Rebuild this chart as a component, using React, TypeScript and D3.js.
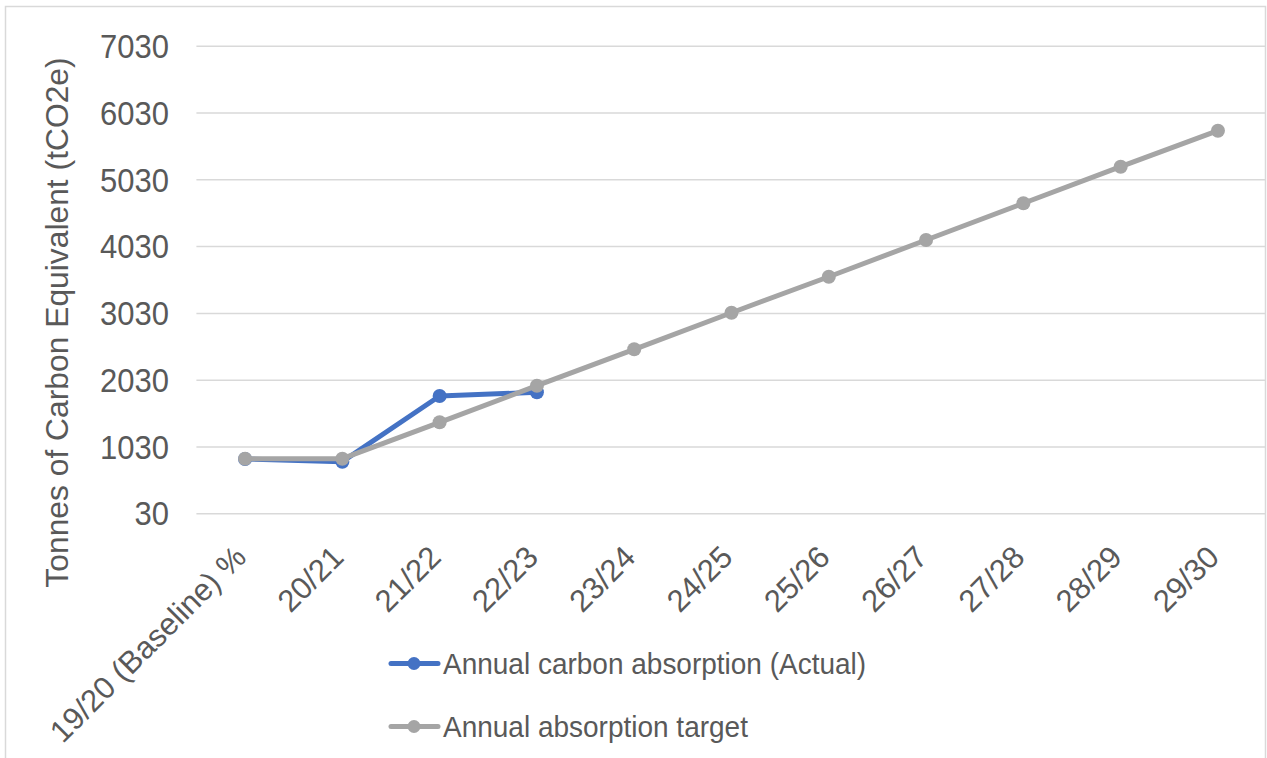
import React from "react";
import * as d3 from "d3";

const categories = [
  "19/20 (Baseline) %",
  "20/21",
  "21/22",
  "22/23",
  "23/24",
  "24/25",
  "25/26",
  "26/27",
  "27/28",
  "28/29",
  "29/30",
];
const actualValues = [850, 809, 1793, 1848];
const targetValues = [854, 854, 1399, 1947, 2492, 3040, 3579, 4129, 4679, 5227, 5766];
const yTicks = [30, 1030, 2030, 3030, 4030, 5030, 6030, 7030];
const seriesNames = ["Annual carbon absorption (Actual)", "Annual absorption target"];
const seriesColors = ["#4472C4", "#A5A5A5"];

const W = 1267;
const H = 758;
const FONT = "'Liberation Sans', Arial, sans-serif";
const TEXT = "#595959";

export default function App() {
  const x = d3.scalePoint<string>().domain(categories).range([196.4, 1266.6]).padding(0.5);
  const y = d3.scaleLinear().domain([30, 7030]).range([513.7, 46.3]);
  const line = d3
    .line<number>()
    .x((_, i) => x(categories[i]) as number)
    .y((d) => y(d));

  const series = [actualValues, targetValues];

  return (
    <svg width={W} height={H} style={{ position: "absolute", left: 0, top: 0 }} fontFamily={FONT}>
      <rect x={0} y={0} width={W} height={H} fill="#fff" />
      <rect x={5.5} y={6.5} width={1260} height={800} fill="none" stroke="#D9D9D9" strokeWidth={1.5} />
      {yTicks.map((t) => (
        <g key={t}>
          <line x1={196.4} x2={1266} y1={y(t)} y2={y(t)} stroke="#D9D9D9" strokeWidth={1.5} />
          <g transform={`translate(169,${y(t)}) scale(1,1.05)`}>
            <text x={0} y={0} dy="0.36em" textAnchor="end" fontSize={31} fill={TEXT}>
              {t}
            </text>
          </g>
        </g>
      ))}
      <text
        transform={`translate(68,322.5) rotate(-90)`}
        textAnchor="middle"
        fontSize={31.8}
        fill={TEXT}
      >
        Tonnes of Carbon Equivalent (tCO2e)
      </text>
      {categories.map((c) => {
        const cx = x(c) as number;
        return (
          <text
            key={c}
            transform={`translate(${cx + 3},${559}) rotate(-45)`}
            textAnchor="end"
            fontSize={31}
            fill={TEXT}
          >
            {c}
          </text>
        );
      })}
      {series.map((vals, si) => (
        <g key={si}>
          <path d={line(vals) || ""} fill="none" stroke={seriesColors[si]} strokeWidth={5} strokeLinejoin="round" strokeLinecap="round" />
          {vals.map((v, i) => (
            <circle key={i} cx={x(categories[i]) as number} cy={y(v)} r={7} fill={seriesColors[si]} />
          ))}
        </g>
      ))}
      {seriesNames.map((n, i) => {
        const ly = [663.5, 726.5][i];
        return (
          <g key={n}>
            <line x1={391} x2={438} y1={ly} y2={ly} stroke={seriesColors[i]} strokeWidth={5} strokeLinecap="round" />
            <circle cx={414} cy={ly} r={6.5} fill={seriesColors[i]} />
            <g transform={`translate(443,${ly}) scale(1,1.08)`}>
              <text x={0} y={0} dy="0.36em" fontSize={28} fill={TEXT}>
                {n}
              </text>
            </g>
          </g>
        );
      })}
    </svg>
  );
}
